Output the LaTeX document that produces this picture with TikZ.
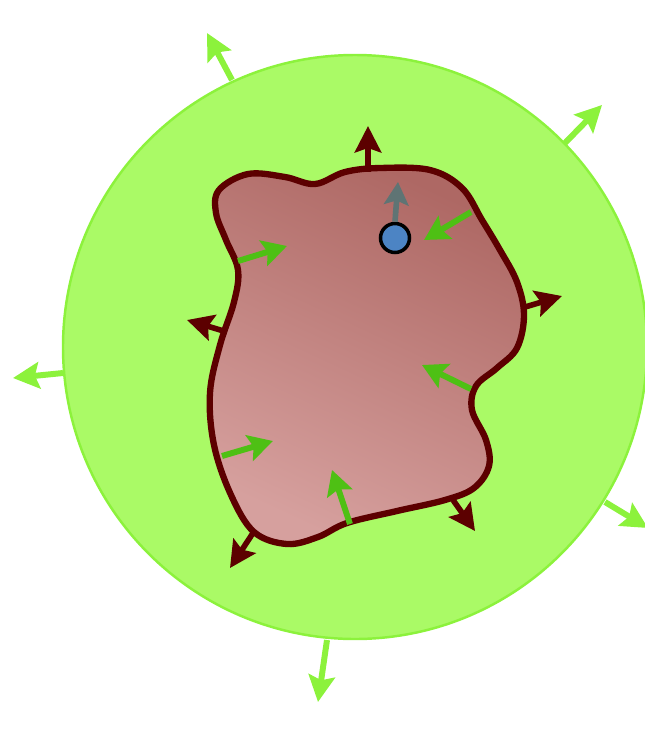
\documentclass[tikz,border=0pt]{standalone}
\usepackage{xcolor}
\usepackage{tikz}
\usetikzlibrary{arrows.meta}

\definecolor{zonefill}{RGB}{170,250,102}
\definecolor{zoneline}{RGB}{140,242,60}
\definecolor{flowin}{RGB}{78,192,20}
\definecolor{bodyline}{RGB}{92,0,0}
\definecolor{bodydark}{RGB}{174,104,100}
\definecolor{bodylight}{RGB}{214,160,158}
\definecolor{probe}{RGB}{95,116,116}
\definecolor{dotblue}{RGB}{76,132,196}

\begin{document}
\begin{tikzpicture}[
  x=0.02cm, y=0.02cm, yscale=-1,
  zone/.style    = {fill=zonefill, draw=zoneline, line width=1.4pt},
  body/.style    = {draw=bodyline, line width=3.6pt, top color=bodydark,
    bottom color=bodylight, shading angle=-25},
  outflow/.style = {-{Stealth[length=15pt,width=15pt,inset=2.5pt]}, line width=3.2pt, draw=bodyline},
  escape/.style  = {-{Stealth[length=15pt,width=15pt,inset=2.5pt]}, line width=3.4pt, draw=zoneline},
  inflow/.style  = {-{Stealth[length=14pt,width=15pt,inset=2.5pt]}, line width=3.4pt, draw=flowin},
  drift/.style   = {-{Stealth[length=13pt,width=14pt,inset=2.5pt]}, line width=3.2pt, draw=probe},
  marker/.style  = {circle, draw=black, line width=2pt, fill=dotblue,
    minimum size=0.58cm, inner sep=0pt},
]
  \useasboundingbox (0,0) rectangle (645,738);

  % surrounding region and escaping flux
  \draw[zone] (355,347) circle (292);
  \foreach \bx/\by/\tx/\ty in {232/80/207/33, 565/143/602/105, 63/373/13/378,
      605/502/648/528, 327/640/318/702}
    \draw[escape] (\bx,\by) -- (\tx,\ty);

  % the body
  \draw[body] plot[smooth cycle, tension=0.6] coordinates {
    (219,190) (248,174) (285,177) (315,184) (345,172) (380,168) (430,170)
    (462,188) (482,220) (500,250) (517,282) (524,315) (517,348) (497,368)
    (476,386) (472,410) (486,440) (489,466) (474,488) (445,500) (397,511)
    (347,523) (318,537) (287,544) (254,532) (231,495) (214,445) (210,393)
    (220,345) (234,302) (238,270) (226,240) (216,213)};

  % outward flux across the boundary
  \foreach \bx/\by/\tx/\ty in {368/172/368/126, 525/307/562/296, 227/332/187/320,
      253/533/230/568, 453/500/475/531}
    \draw[outflow] (\bx,\by) -- (\tx,\ty);

  % inward flux
  \foreach \bx/\by/\tx/\ty in {238/261/287/246, 471/212/424/240, 471/389/422/365,
      222/456/273/441, 350/524/332/470}
    \draw[inflow] (\bx,\by) -- (\tx,\ty);

  \node[marker] (dot) at (395,238) {};
  \coordinate (dotup) at (398,182);
  \draw[drift] (dot.north) -- (dotup);
\end{tikzpicture}
\end{document}
